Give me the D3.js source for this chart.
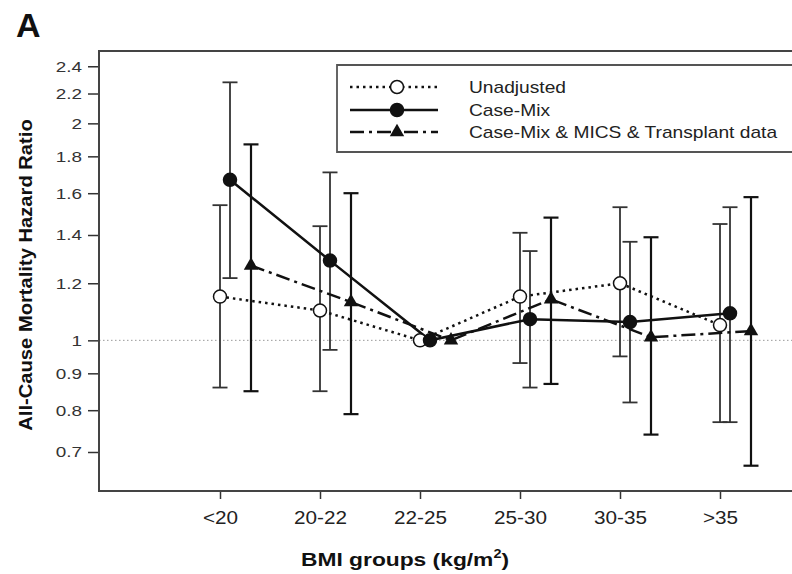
<!DOCTYPE html>
<html>
<head>
<meta charset="utf-8">
<script src="https://cdn.jsdelivr.net/npm/d3@7"></script>
<style>
body { margin: 0; background: #fff; }
svg { display: block; font-family: "Liberation Sans", Arial, sans-serif; }
</style>
</head>
<body>
<div class="chart"></div>
<script>
const categories = ["<20", "20-22", "22-25", "25-30", "30-35", ">35"];
const yTicks = [0.7, 0.8, 0.9, 1, 1.2, 1.4, 1.6, 1.8, 2, 2.2, 2.4];

const unadjusted = [1.15, 1.10, 1.00, 1.15, 1.20, 1.05];
const unadjustedLow = [0.86, 0.85, null, 0.93, 0.95, 0.77];
const unadjustedHigh = [1.54, 1.44, null, 1.41, 1.53, 1.45];

const caseMix = [1.67, 1.29, 1.00, 1.07, 1.06, 1.09];
const caseMixLow = [1.22, 0.97, null, 0.86, 0.82, 0.77];
const caseMixHigh = [2.28, 1.71, null, 1.33, 1.37, 1.53];

const mics = [1.27, 1.13, 1.00, 1.14, 1.01, 1.03];
const micsLow = [0.85, 0.79, null, 0.87, 0.74, 0.67];
const micsHigh = [1.87, 1.60, null, 1.48, 1.39, 1.58];

const seriesNames = ["Unadjusted", "Case-Mix", "Case-Mix & MICS & Transplant data"];

function drawChart(){

    const width = 792;
    const height = 574;

    const plot = { left: 99, top: 51, bottom: 491, right: 800 };

    const svg = d3.select(".chart")
        .append("svg")
        .attr("width", width)
        .attr("height", height);

    const x = d3.scalePoint()
        .domain(categories)
        .range([220, 720]);

    const y = d3.scaleLog()
        .domain([0.618, 2.52])
        .range([plot.bottom, plot.top]);

    const series = [
        { name: seriesNames[0], est: unadjusted, lo: unadjustedLow, hi: unadjustedHigh,
          offset: 0, dash: "2.5,4", width: 2.5, marker: "open", errColor: "#333", errWidth: 1.8 },
        { name: seriesNames[1], est: caseMix, lo: caseMixLow, hi: caseMixHigh,
          offset: 10, dash: null, width: 2.5, marker: "filled", errColor: "#333", errWidth: 1.8 },
        { name: seriesNames[2], est: mics, lo: micsLow, hi: micsHigh,
          offset: 31, dash: "14,5,3,5", width: 2.5, marker: "triangle", errColor: "#111", errWidth: 2.2 }
    ];

    //Panel letter
    svg.append("text")
        .attr("x", 16)
        .attr("y", 37)
        .attr("font-size", 34)
        .attr("font-weight", "bold")
        .attr("fill", "#111")
        .text("A");

    //Reference line at 1
    svg.append("line")
        .attr("x1", plot.left)
        .attr("x2", plot.right)
        .attr("y1", y(1))
        .attr("y2", y(1))
        .attr("stroke", "#999")
        .attr("stroke-width", 1)
        .attr("stroke-dasharray", "1.5,2.5");

    //Axes
    const yAxis = svg.append("g")
        .attr("transform", `translate(${plot.left},0)`)
        .call(
            d3.axisLeft(y)
                .tickValues(yTicks)
                .tickFormat(d3.format("~g"))
                .tickSize(11)
                .tickPadding(6)
        );

    yAxis.select(".domain").remove();
    yAxis.selectAll(".tick line").attr("stroke", "#333").attr("stroke-width", 1.5);
    yAxis.selectAll(".tick text")
        .attr("font-size", 15.5)
        .attr("fill", "#333")
        .style("font-family", "'Liberation Sans', Arial, sans-serif")
        .style("transform-box", "fill-box")
        .style("transform-origin", "right center")
        .style("transform", "scaleX(1.22)");

    const xAxis = svg.append("g")
        .attr("transform", `translate(0,${plot.bottom})`)
        .call(
            d3.axisBottom(x)
                .tickSize(8)
                .tickPadding(12)
        );

    xAxis.select(".domain").remove();
    xAxis.selectAll(".tick line").attr("stroke", "#333").attr("stroke-width", 1.5);
    xAxis.selectAll(".tick text")
        .attr("font-size", 18)
        .attr("fill", "#222")
        .style("font-family", "'Liberation Sans', Arial, sans-serif")
        .style("transform-box", "fill-box")
        .style("transform-origin", "center")
        .style("transform", "scaleX(1.15)");

    //Frame
    svg.append("path")
        .attr("d", `M${plot.right},${plot.top}H${plot.left}V${plot.bottom}H${plot.right}`)
        .attr("fill", "none")
        .attr("stroke", "#444")
        .attr("stroke-width", 2);

    //Error bars
    series.forEach(s => {

        const bars = categories
            .map((c, i) => ({ c: c, lo: s.lo[i], hi: s.hi[i] }))
            .filter(d => d.lo != null);

        const g = svg.append("g")
            .attr("stroke", s.errColor)
            .attr("stroke-width", s.errWidth);

        g.selectAll(".stem")
            .data(bars)
            .enter()
            .append("line")
            .attr("x1", d => x(d.c) + s.offset)
            .attr("x2", d => x(d.c) + s.offset)
            .attr("y1", d => y(d.lo))
            .attr("y2", d => y(d.hi));

        ["lo", "hi"].forEach(k => {
            g.selectAll(".cap-" + k)
                .data(bars)
                .enter()
                .append("line")
                .attr("x1", d => x(d.c) + s.offset - 7.5)
                .attr("x2", d => x(d.c) + s.offset + 7.5)
                .attr("y1", d => y(d[k]))
                .attr("y2", d => y(d[k]));
        });

    });

    //Lines
    const line = d3.line()
        .x(d => d.x)
        .y(d => d.y);

    series.forEach(s => {

        const pts = categories.map((c, i) => ({ x: x(c) + s.offset, y: y(s.est[i]) }));

        svg.append("path")
            .datum(pts)
            .attr("d", line)
            .attr("fill", "none")
            .attr("stroke", "#111")
            .attr("stroke-width", s.width)
            .attr("stroke-dasharray", s.dash);

    });

    //Markers
    function drawMarker(sel, kind){
        if (kind === "triangle"){
            sel.append("path")
                .attr("d", d3.symbol().type(d3.symbolTriangle).size(90)())
                .attr("fill", "#111");
        } else {
            sel.append("circle")
                .attr("r", 6.5)
                .attr("fill", kind === "open" ? "#fff" : "#111")
                .attr("stroke", "#111")
                .attr("stroke-width", 1.5);
        }
    }

    series.forEach(s => {

        categories.forEach((c, i) => {
            const m = svg.append("g")
                .attr("transform", `translate(${x(c) + s.offset},${y(s.est[i])})`);
            drawMarker(m, s.marker);
        });

    });

    //Legend
    const legend = svg.append("g");

    legend.append("path")
        .attr("d", "M800,65H337V152H800")
        .attr("fill", "#fff")
        .attr("stroke", "#555")
        .attr("stroke-width", 1.8);

    const rowY = [87, 110, 132];

    series.forEach((s, i) => {

        const row = legend.append("g")
            .attr("transform", `translate(0,${rowY[i]})`);

        row.append("line")
            .attr("x1", 350)
            .attr("x2", 438)
            .attr("stroke", "#111")
            .attr("stroke-width", s.width)
            .attr("stroke-dasharray", s.dash);

        drawMarker(row.append("g").attr("transform", "translate(397,0)"), s.marker);

        row.append("text")
            .attr("x", 469)
            .attr("y", 6)
            .attr("font-size", 16)
            .attr("fill", "#222")
            .style("transform-box", "fill-box")
            .style("transform-origin", "left center")
            .style("transform", "scaleX(1.2)")
            .text(s.name);

    });

    //Axis titles
    svg.append("text")
        .attr("transform", "translate(26,275) rotate(-90) scale(1.12,1)")
        .attr("text-anchor", "middle")
        .attr("dominant-baseline", "central")
        .attr("font-size", 18)
        .attr("font-weight", "bold")
        .attr("fill", "#111")
        .text("All-Cause Mortality Hazard Ratio");

    const xTitle = svg.append("text")
        .attr("transform", "translate(405,566) scale(1.2,1)")
        .attr("text-anchor", "middle")
        .attr("font-size", 19)
        .attr("font-weight", "bold")
        .attr("fill", "#111");

    xTitle.append("tspan").text("BMI groups (kg/m");
    xTitle.append("tspan").attr("dy", -8).attr("font-size", 12).text("2");
    xTitle.append("tspan").attr("dy", 8).text(")");

}

drawChart();
</script>
</body>
</html>
